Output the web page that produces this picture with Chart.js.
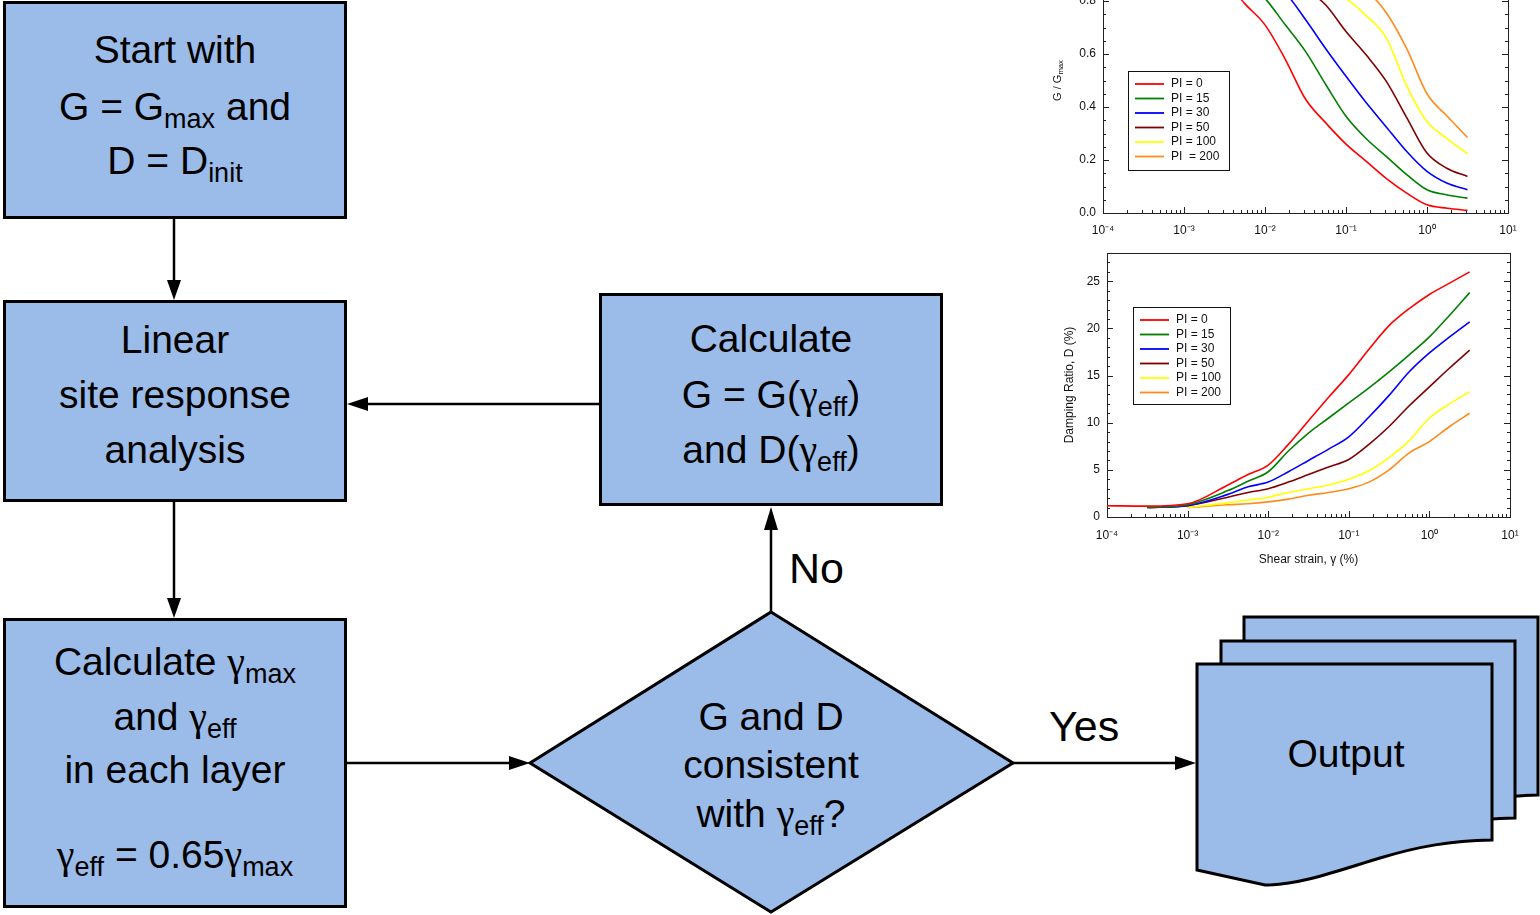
<!DOCTYPE html>
<html>
<head>
<meta charset="utf-8">
<script src="https://cdn.jsdelivr.net/npm/chart.js@4.4.1/dist/chart.umd.min.js"></script>
<style>
  html, body { margin: 0; padding: 0; background: #fff; width: 1540px; height: 915px; overflow: hidden; }
  #flow { position: absolute; left: 0; top: 0; }
  #flow text { font-family: "Liberation Sans", Arial, sans-serif; font-size: 39px; fill: #000; }
  #flow .sub { font-size: 27px; }
  #flow .g { font-family: "Liberation Serif", "Times New Roman", serif; font-size: 40px; }
  #flow .big { font-size: 43px; }
  .wrap { position: absolute; left: 1040px; width: 500px; }
  #gWrap { top: -69px; height: 315px; }
  #dWrap { top: 245px; height: 335px; }
</style>
</head>
<body>

<svg id="flow" width="1540" height="915">
  <g fill="#9bbbe8" stroke="#000" stroke-width="3" stroke-linejoin="miter">
    <rect x="4.5" y="2.5" width="341" height="215"/>
    <rect x="4.5" y="301.5" width="341" height="199"/>
    <rect x="4.5" y="619.5" width="341" height="287"/>
    <rect x="600.5" y="294.5" width="341" height="210"/>
    <polygon points="771,612 1013,763 771,912 530,763"/>
    <path d="M1244,617 H1538 V795 C1496,796 1466,801 1426,813 S1346,840 1311,840 L1244,825 Z"/>
    <path d="M1221,641 H1515 V818 C1473,819 1443,824 1403,836 S1323,863 1288,863 L1221,848 Z"/>
    <path d="M1197,664 H1492 V840 C1450,841 1420,846 1380,858 S1300,885 1265,885 L1197,870 Z"/>
  </g>
  <g stroke="#000" stroke-width="2.5">
    <line x1="174" y1="219" x2="174" y2="282"/>
    <line x1="174" y1="502" x2="174" y2="600"/>
    <line x1="599" y1="404" x2="366" y2="404"/>
    <line x1="346" y1="763" x2="512" y2="763"/>
    <line x1="771" y1="612" x2="771" y2="528"/>
    <line x1="1013" y1="763" x2="1178" y2="763"/>
  </g>
  <g fill="#000">
    <polygon points="174,300 167,280 181,280"/>
    <polygon points="174,618 167,598 181,598"/>
    <polygon points="347,404 368,397 368,411"/>
    <polygon points="530,763 509,756 509,770"/>
    <polygon points="771,507 764,530 778,530"/>
    <polygon points="1196,763 1175,756 1175,770"/>
  </g>

  <g text-anchor="middle">
    <text x="175" y="63">Start with</text>
    <text x="175" y="120">G = G<tspan class="sub" dy="8">max</tspan><tspan dy="-8"> and</tspan></text>
    <text x="175" y="174">D = D<tspan class="sub" dy="8">init</tspan></text>

    <text x="175" y="353">Linear</text>
    <text x="175" y="408">site response</text>
    <text x="175" y="463">analysis</text>

    <text x="175" y="675">Calculate <tspan class="g">γ</tspan><tspan class="sub" dy="8">max</tspan></text>
    <text x="175" y="730">and <tspan class="g">γ</tspan><tspan class="sub" dy="8">eff</tspan></text>
    <text x="175" y="783">in each layer</text>
    <text x="175" y="868"><tspan class="g">γ</tspan><tspan class="sub" dy="8">eff</tspan><tspan dy="-8"> = 0.65</tspan><tspan class="g">γ</tspan><tspan class="sub" dy="8">max</tspan></text>

    <text x="771" y="352">Calculate</text>
    <text x="771" y="408">G = G(<tspan class="g">γ</tspan><tspan class="sub" dy="8">eff</tspan><tspan dy="-8">)</tspan></text>
    <text x="771" y="463">and D(<tspan class="g">γ</tspan><tspan class="sub" dy="8">eff</tspan><tspan dy="-8">)</tspan></text>

    <text x="771" y="730">G and D</text>
    <text x="771" y="778">consistent</text>
    <text x="771" y="827">with <tspan class="g">γ</tspan><tspan class="sub" dy="8">eff</tspan><tspan dy="-8">?</tspan></text>

    <text x="1346" y="767">Output</text>
  </g>
  <text class="big" x="789" y="583">No</text>
  <text class="big" x="1049" y="741">Yes</text>
</svg>

<div class="wrap" id="gWrap"><canvas id="gChart"></canvas></div>
<div class="wrap" id="dWrap"><canvas id="dChart"></canvas></div>

<script>
// shear strain (%) at which the curves were read
const strain = [0.0001, 0.000316, 0.001, 0.00316, 0.00562, 0.01, 0.0178, 0.0316, 0.0562, 0.1, 0.178, 0.316, 0.562, 1, 1.78, 3.16];
const curveColors = ["#ff0000", "#008000", "#0000ff", "#800000", "#ffff00", "#ff8c1a"];
const gLabels = ["PI = 0", "PI = 15", "PI = 30", "PI = 50", "PI = 100", "PI  = 200"];
const dLabels = ["PI = 0", "PI = 15", "PI = 30", "PI = 50", "PI = 100", "PI = 200"];

// G / Gmax
const gPI0   = [1.0, 0.99, 0.97, 0.88, 0.79, 0.71, 0.58, 0.43, 0.34, 0.26, 0.195, 0.13, 0.075, 0.031, 0.018, 0.010];
const gPI15  = [1.0, 1.0, 0.98, 0.93, 0.88, 0.81, 0.71, 0.61, 0.485, 0.365, 0.28, 0.213, 0.145, 0.088, 0.068, 0.056];
const gPI30  = [1.0, 1.0, 0.99, 0.96, 0.93, 0.88, 0.83, 0.73, 0.62, 0.516, 0.416, 0.324, 0.232, 0.157, 0.112, 0.088];
const gPI50  = [1.0, 1.0, 1.0, 0.98, 0.96, 0.93, 0.89, 0.845, 0.785, 0.685, 0.596, 0.496, 0.36, 0.226, 0.168, 0.138];
const gPI100 = [1.0, 1.0, 1.0, 0.99, 0.98, 0.96, 0.93, 0.9, 0.86, 0.81, 0.745, 0.66, 0.48, 0.345, 0.28, 0.223];
const gPI200 = [1.0, 1.0, 1.0, 0.99, 0.98, 0.97, 0.96, 0.94, 0.92, 0.89, 0.84, 0.755, 0.62, 0.45, 0.365, 0.285];

// damping ratio D (%)
const dPI0   = [1.2, 1.15, 1.4, 3.4, 4.5, 5.5, 7.7, 10.2, 12.7, 15.1, 17.8, 20.3, 22.1, 23.6, 24.8, 26.0];
const dPI15  = [null, 1.0, 1.3, 2.8, 3.8, 4.8, 7.0, 8.9, 10.5, 12.1, 13.7, 15.4, 17.2, 19.1, 21.4, 23.8];
const dPI30  = [null, 1.0, 1.2, 2.4, 3.2, 3.7, 4.8, 6.0, 7.2, 8.5, 10.6, 12.9, 15.4, 17.4, 19.1, 20.7];
const dPI50  = [null, 1.0, 1.2, 2.1, 2.6, 3.0, 3.7, 4.5, 5.3, 6.1, 7.7, 9.6, 11.8, 13.8, 15.8, 17.7];
const dPI100 = [null, null, 1.0, 1.5, 1.8, 2.1, 2.6, 3.0, 3.4, 4.0, 4.9, 6.3, 8.1, 10.5, 12.0, 13.3];
const dPI200 = [null, null, 1.0, 1.3, 1.4, 1.6, 1.9, 2.3, 2.6, 3.0, 3.7, 5.0, 6.8, 8.0, 9.6, 11.0];

const FONT = "'Liberation Sans', Arial, sans-serif";
const SUP = { "-": "\u207B", "0": "\u2070", "1": "\u00B9", "2": "\u00B2", "3": "\u00B3", "4": "\u2074" };

const isDecade = (v) => Math.abs(Math.log10(v) - Math.round(Math.log10(v))) < 1e-6;

function makeSets(labels, series) {
  return series.map((arr, i) => ({
    label: labels[i],
    data: strain.map((x, j) => ({ x, y: arr[j] })),
    borderColor: curveColors[i],
    backgroundColor: curveColors[i],
    borderWidth: 1.6,
    pointRadius: 0,
    cubicInterpolationMode: "monotone",
    spanGaps: false,
  }));
}

// draw a line of text where some parts are subscripts
function richText(ctx, parts, size) {
  const w = parts.map((p) => {
    ctx.font = (p.sub ? size * 0.7 : size) + "px " + FONT;
    return ctx.measureText(p.t).width;
  });
  let x = -w.reduce((a, b) => a + b, 0) / 2;
  parts.forEach((p, i) => {
    ctx.font = (p.sub ? size * 0.7 : size) + "px " + FONT;
    ctx.fillText(p.t, x, p.sub ? size * 0.3 : 0);
    x += w[i];
  });
}

// frame, inward ticks, axis titles and boxed legend
const paperPlugin = {
  id: "paper",
  beforeDatasetsDraw(chart, args, opts) {
    const { ctx, chartArea: a, scales: { x, y } } = chart;
    ctx.save();
    ctx.strokeStyle = "#222";
    ctx.lineWidth = 1;
    ctx.strokeRect(a.left + 0.5, a.top + 0.5, a.right - a.left, a.bottom - a.top);
    ctx.beginPath();
    x.ticks.forEach((t) => {
      const px = Math.round(x.getPixelForValue(t.value)) + 0.5;
      const len = isDecade(t.value) ? 6 : 3;
      ctx.moveTo(px, a.bottom);
      ctx.lineTo(px, a.bottom - len);
    });
    y.ticks.forEach((t) => {
      const py = Math.round(y.getPixelForValue(t.value)) + 0.5;
      const len = t.label ? 6 : 3;
      ctx.moveTo(a.left, py);
      ctx.lineTo(a.left + len, py);
      ctx.moveTo(a.right, py);
      ctx.lineTo(a.right - len, py);
    });
    ctx.stroke();

    ctx.fillStyle = "#111";
    ctx.textBaseline = "middle";
    ctx.textAlign = "left";
    // y title (rotated)
    ctx.save();
    ctx.translate(a.left - opts.yTitleGap, (a.top + a.bottom) / 2);
    ctx.rotate(-Math.PI / 2);
    richText(ctx, opts.yTitle, opts.titleSize);
    ctx.restore();
    // x title
    if (opts.xTitle) {
      ctx.save();
      ctx.translate((a.left + a.right) / 2, a.bottom + opts.xTitleGap);
      richText(ctx, opts.xTitle, opts.titleSize);
      ctx.restore();
    }
    ctx.restore();
  },
  afterDraw(chart, args, opts) {
    const { ctx, chartArea: a } = chart;
    const lg = opts.legend;
    const left = a.left + lg.dx, top = a.top + lg.dy;
    const sets = chart.data.datasets;
    ctx.save();
    ctx.fillStyle = "#fff";
    ctx.fillRect(left, top, lg.w, lg.h);
    ctx.strokeStyle = "#111";
    ctx.lineWidth = 1;
    ctx.strokeRect(left + 0.5, top + 0.5, lg.w, lg.h);
    ctx.font = lg.size + "px " + FONT;
    ctx.textBaseline = "middle";
    sets.forEach((ds, i) => {
      const yy = top + lg.first + i * lg.step;
      ctx.strokeStyle = ds.borderColor;
      ctx.lineWidth = 1.8;
      ctx.beginPath();
      ctx.moveTo(left + 7, yy);
      ctx.lineTo(left + 36, yy);
      ctx.stroke();
      ctx.fillStyle = "#111";
      ctx.fillText(ds.label, left + 43, yy);
    });
    ctx.restore();
  },
};

function noPad(s) {
  s.paddingTop = 0;
  s.paddingBottom = 0;
  s.paddingLeft = 0;
  s.paddingRight = 0;
}

function xAxis(xHeight, pad) {
  return {
    type: "logarithmic",
    min: 0.0001,
    max: 10,
    grid: { display: false, drawTicks: false },
    border: { display: false },
    afterBuildTicks: (s) => {
      const t = [];
      for (let e = -4; e <= 0; e++) for (let m = 1; m <= 9; m++) t.push({ value: m * Math.pow(10, e) });
      t.push({ value: 10 });
      s.ticks = t;
    },
    afterFit: (s) => { s.height = xHeight; noPad(s); },
    ticks: {
      autoSkip: false,
      maxRotation: 0,
      padding: pad,
      color: "#111",
      font: { family: FONT, size: 12 },
      callback: (v) => {
        if (!isDecade(v)) return "";
        const e = String(Math.round(Math.log10(v)));
        return "10" + e.split("").map((c) => SUP[c]).join("");
      },
    },
  };
}

function yAxis(max, step, labelEvery, digits, width) {
  return {
    min: 0,
    max,
    grid: { display: false, drawTicks: false },
    border: { display: false },
    afterBuildTicks: (s) => {
      const t = [];
      const n = Math.round(max / step);
      for (let i = 0; i <= n; i++) t.push({ value: +(i * step).toFixed(4) });
      s.ticks = t;
    },
    afterFit: (s) => { s.width = width; noPad(s); },
    ticks: {
      autoSkip: false,
      padding: 7,
      color: "#111",
      font: { family: FONT, size: 12 },
      callback: (v) => {
        const r = v / labelEvery;
        return Math.abs(r - Math.round(r)) < 1e-6 ? v.toFixed(digits) : "";
      },
    },
  };
}

function baseOptions(yOpts, xOpts, padding, paper) {
  return {
    responsive: true,
    maintainAspectRatio: false,
    animation: false,
    layout: { padding },
    scales: { x: xOpts, y: yOpts },
    plugins: { legend: { display: false }, tooltip: { enabled: false }, paper },
  };
}

new Chart(document.getElementById("gChart"), {
  type: "line",
  data: { datasets: makeSets(gLabels, [gPI0, gPI15, gPI30, gPI50, gPI100, gPI200]) },
  options: baseOptions(
    yAxis(1.0, 0.05, 0.2, 1, 63),
    xAxis(33, 10),
    { top: 17, right: 32, left: 0, bottom: 0 },
    {
      yTitle: [{ t: "G / G" }, { t: "max", sub: true }],
      yTitleGap: 45,
      titleSize: 11,
      legend: { dx: 25, dy: 123, w: 101, h: 99, first: 13, step: 14.5, size: 12 },
    }
  ),
  plugins: [paperPlugin],
});

new Chart(document.getElementById("dChart"), {
  type: "line",
  data: { datasets: makeSets(dLabels, [dPI0, dPI15, dPI30, dPI50, dPI100, dPI200]) },
  options: baseOptions(
    yAxis(28, 1, 5, 0, 67),
    xAxis(63, 11),
    { top: 8, right: 30, left: 0, bottom: 0 },
    {
      yTitle: [{ t: "Damping Ratio, D (%)" }],
      yTitleGap: 37,
      xTitle: [{ t: "Shear strain, \u03B3 (%)" }],
      xTitleGap: 43,
      titleSize: 12,
      legend: { dx: 26, dy: 54, w: 97, h: 97, first: 13, step: 14.5, size: 12 },
    }
  ),
  plugins: [paperPlugin],
});
</script>
</body>
</html>
